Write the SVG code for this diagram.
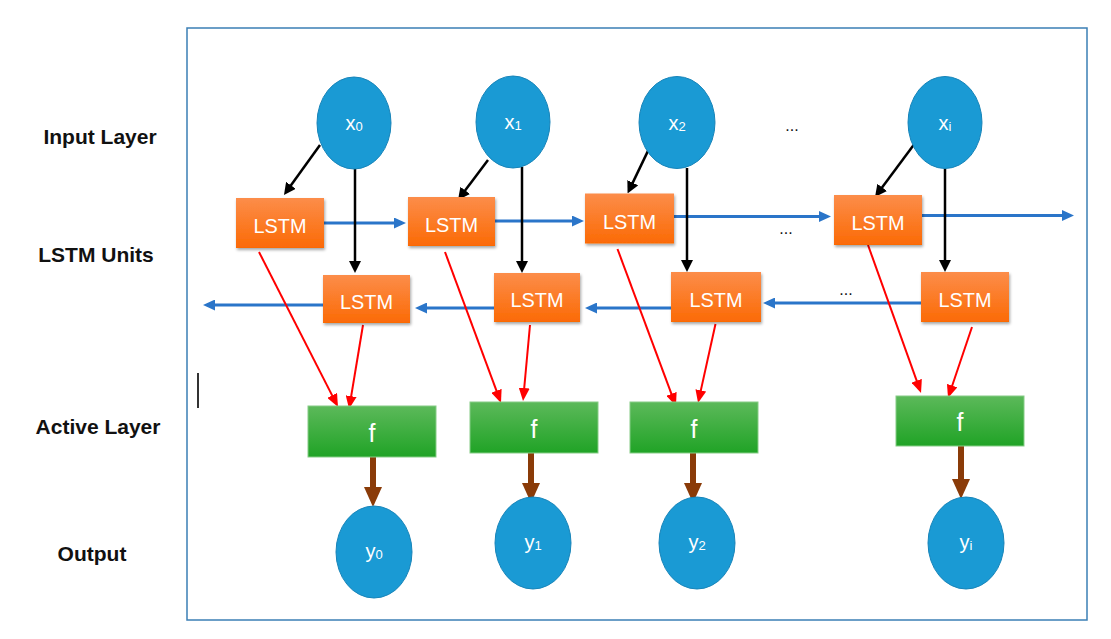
<svg xmlns="http://www.w3.org/2000/svg" width="1111" height="639" viewBox="0 0 1111 639">
<defs>
<linearGradient id="gOrange" x1="0" y1="0" x2="0" y2="1"><stop offset="0" stop-color="#fc8d4a"/><stop offset="1" stop-color="#fb6a05"/></linearGradient>
<linearGradient id="gGreen" x1="0" y1="0" x2="0" y2="1"><stop offset="0" stop-color="#5cb95a"/><stop offset="1" stop-color="#20a326"/></linearGradient>
<filter id="sh" x="-10%" y="-10%" width="130%" height="140%"><feDropShadow dx="1" dy="2" stdDeviation="1.5" flood-color="#000" flood-opacity="0.35"/></filter>
<marker id="mBlue" viewBox="0 0 12 11" refX="8" refY="5.5" markerWidth="12" markerHeight="11" markerUnits="userSpaceOnUse" orient="auto"><path d="M0,0 L12,5.5 L0,11 Z" fill="#2a75c9"/></marker>
<marker id="mBlack" viewBox="0 0 12 12" refX="8" refY="6" markerWidth="12" markerHeight="12" markerUnits="userSpaceOnUse" orient="auto"><path d="M0,0 L12,6 L0,12 Z" fill="#000"/></marker>
<marker id="mRed" viewBox="0 0 13 11" refX="9" refY="5.5" markerWidth="13" markerHeight="11" markerUnits="userSpaceOnUse" orient="auto"><path d="M0,0 L13,5.5 L0,11 Z" fill="#ff0000"/></marker>
<marker id="mBrown" viewBox="0 0 20 18" refX="10" refY="9" markerWidth="20" markerHeight="18" markerUnits="userSpaceOnUse" orient="auto"><path d="M0,0 L20,9 L0,18 Z" fill="#8a3b08"/></marker>
</defs>
<style>
.frame{fill:none;stroke:#3b7fb5;stroke-width:1.5}
.lbl{font-family:"Liberation Sans",Arial,sans-serif;font-weight:bold;font-size:21px;fill:#111;text-anchor:middle}
.circ{fill:#1a9ad4;stroke:#1784b9;stroke-width:1}
.lstm{fill:url(#gOrange);filter:url(#sh)}
.fbox{fill:url(#gGreen);stroke:#86cc86;stroke-width:1}
.wt{font-family:"Liberation Sans",Arial,sans-serif;fill:#fff;text-anchor:middle}
.t20{font-size:20px}
.lt{font-size:21px}
.ft{font-size:25px}
.sub{font-size:13px}
.blue{stroke:#2a75c9;stroke-width:3;fill:none;marker-end:url(#mBlue)}
.black{stroke:#000;stroke-width:2.5;fill:none;marker-end:url(#mBlack)}
.red{stroke:#ff0000;stroke-width:2;fill:none;marker-end:url(#mRed)}
.brown{stroke:#8a3b08;stroke-width:6;fill:none;marker-end:url(#mBrown)}
.dots{font-family:"Liberation Sans",Arial,sans-serif;font-size:16px;fill:#111;text-anchor:middle}
</style>
<rect width="1111" height="639" fill="#fff"/>
<rect class="frame" x="187" y="28" width="900" height="592"/>
<line x1="198" y1="373" x2="198" y2="408" stroke="#333" stroke-width="2"/>

<g id="labels">
<text class="lbl" x="100" y="144">Input Layer</text>
<text class="lbl" x="96" y="262">LSTM Units</text>
<text class="lbl" x="98" y="434">Active Layer</text>
<text class="lbl" x="92" y="561">Output</text>
<text class="dots" x="792" y="131">...</text>
<text class="dots" x="786" y="234">...</text>
<text class="dots" x="846" y="295">...</text>
</g>

<g id="connectors">
<path class="blue" d="M324,223 H402"/>
<path class="blue" d="M495,221 H580"/>
<path class="blue" d="M674,216.5 H827"/>
<path class="blue" d="M922,215.5 H1070"/>
<path class="blue" d="M921,303 H767"/>
<path class="blue" d="M671,308 H589"/>
<path class="blue" d="M494,308 H419"/>
<path class="blue" d="M323,305 H207"/>

<path class="black" d="M320,145 L286.3,191.8"/>
<path class="black" d="M355,169 V269"/>
<path class="black" d="M488,160 L460.4,196.8"/>
<path class="black" d="M522,167 V269"/>
<path class="black" d="M648.6,149.6 L629.3,189.9"/>
<path class="black" d="M687,168 V268"/>
<path class="black" d="M914,144.5 L877.4,193.8"/>
<path class="black" d="M945,163 V268"/>

<path class="red" d="M259,252 L336.2,403.4"/>
<path class="red" d="M363,325 L349.7,405.1"/>
<path class="red" d="M445,252 L499.6,399.2"/>
<path class="red" d="M530,325 L523.4,397"/>
<path class="red" d="M617.5,249 L674.6,402.3"/>
<path class="red" d="M715.5,324 L698.9,399.1"/>
<path class="red" d="M868,245 L919.7,389.2"/>
<path class="red" d="M972,327 L949.3,394.2"/>

<path class="brown" d="M373,457 V497"/>
<path class="brown" d="M531,453 V493"/>
<path class="brown" d="M693,453 V493"/>
<path class="brown" d="M961,446 V489"/>
</g>

<g id="x0"><ellipse class="circ" cx="354" cy="123" rx="37" ry="46"/><text class="wt t20" x="354" y="130">x<tspan class="sub" dy="1">0</tspan></text></g>
<g id="x1"><ellipse class="circ" cx="513" cy="122" rx="37" ry="46"/><text class="wt t20" x="513" y="129">x<tspan class="sub" dy="1">1</tspan></text></g>
<g id="x2"><ellipse class="circ" cx="677" cy="122.5" rx="38" ry="46"/><text class="wt t20" x="677" y="129.5">x<tspan class="sub" dy="1">2</tspan></text></g>
<g id="xi"><ellipse class="circ" cx="945" cy="122.5" rx="37" ry="46"/><text class="wt t20" x="945" y="129.5">x<tspan class="sub" dy="1">i</tspan></text></g>

<g id="lstm0u"><rect class="lstm" x="236" y="198" width="88" height="50"/><text class="wt lt" x="280" y="233" textLength="53" lengthAdjust="spacingAndGlyphs">LSTM</text></g>
<g id="lstm1u"><rect class="lstm" x="408" y="197" width="87" height="49"/><text class="wt lt" x="451.5" y="232" textLength="53" lengthAdjust="spacingAndGlyphs">LSTM</text></g>
<g id="lstm2u"><rect class="lstm" x="585" y="193.5" width="89" height="50"/><text class="wt lt" x="629.5" y="229" textLength="53" lengthAdjust="spacingAndGlyphs">LSTM</text></g>
<g id="lstmiu"><rect class="lstm" x="834" y="195" width="88" height="50"/><text class="wt lt" x="878" y="230" textLength="53" lengthAdjust="spacingAndGlyphs">LSTM</text></g>

<g id="lstm0d"><rect class="lstm" x="323" y="275" width="87" height="48"/><text class="wt lt" x="366.5" y="309" textLength="53" lengthAdjust="spacingAndGlyphs">LSTM</text></g>
<g id="lstm1d"><rect class="lstm" x="494" y="273" width="86" height="49"/><text class="wt lt" x="537" y="307" textLength="53" lengthAdjust="spacingAndGlyphs">LSTM</text></g>
<g id="lstm2d"><rect class="lstm" x="671" y="272" width="90" height="50"/><text class="wt lt" x="716" y="307" textLength="53" lengthAdjust="spacingAndGlyphs">LSTM</text></g>
<g id="lstmid"><rect class="lstm" x="921" y="272" width="88" height="50"/><text class="wt lt" x="965" y="307" textLength="53" lengthAdjust="spacingAndGlyphs">LSTM</text></g>

<g id="f0"><rect class="fbox" x="308" y="406" width="128" height="51"/><text class="wt ft" x="372" y="442">f</text></g>
<g id="f1"><rect class="fbox" x="470" y="402" width="128" height="51"/><text class="wt ft" x="534" y="438">f</text></g>
<g id="f2"><rect class="fbox" x="630" y="402" width="128" height="51"/><text class="wt ft" x="694" y="438">f</text></g>
<g id="fi"><rect class="fbox" x="896" y="396" width="128" height="50"/><text class="wt ft" x="960" y="431">f</text></g>

<g id="y0"><ellipse class="circ" cx="374" cy="552" rx="38" ry="46"/><text class="wt t20" x="374" y="558">y<tspan class="sub" dy="1">0</tspan></text></g>
<g id="y1"><ellipse class="circ" cx="533" cy="543" rx="38" ry="46"/><text class="wt t20" x="533" y="549">y<tspan class="sub" dy="1">1</tspan></text></g>
<g id="y2"><ellipse class="circ" cx="697" cy="543" rx="38" ry="46"/><text class="wt t20" x="697" y="549">y<tspan class="sub" dy="1">2</tspan></text></g>
<g id="yi"><ellipse class="circ" cx="966" cy="543" rx="38" ry="46"/><text class="wt t20" x="966" y="549">y<tspan class="sub" dy="1">i</tspan></text></g>
</svg>
